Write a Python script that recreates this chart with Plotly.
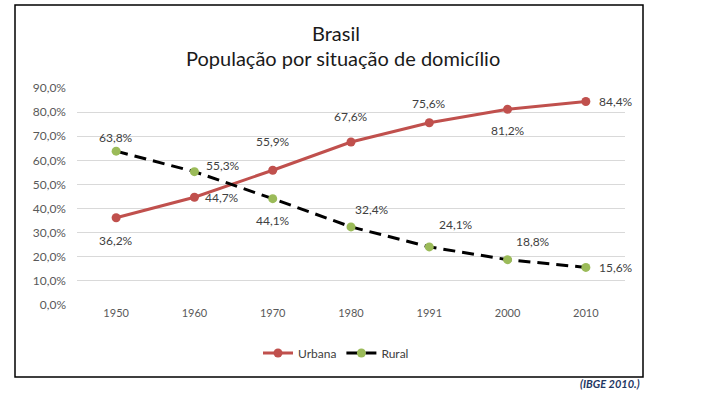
import plotly.graph_objects as go

anos = ["1950", "1960", "1970", "1980", "1991", "2000", "2010"]
urbana = [36.2, 44.7, 55.9, 67.6, 75.6, 81.2, 84.4]
rural = [63.8, 55.3, 44.1, 32.4, 24.1, 18.8, 15.6]
y_ticks = [0, 10, 20, 30, 40, 50, 60, 70, 80, 90]
y_ticktext = [f"{v:.1f}".replace(".", ",") + "%" for v in y_ticks]

# label offsets (pixels) per point
urb_off = [(0, -23), (28, 0), (0, 29), (0, 26), (0, 19), (0, -21), (30, 0)]
rur_off = [(0, 14), (29, 6), (0, -22), (21, 17), (27, 22), (25, 18), (30, 0)]

FONT = "Lato"
LBL = "#404040"

def fmt(v):
    return f"{v:.1f}".replace(".", ",") + "%"

xi = list(range(len(anos)))

fig = go.Figure()
fig.add_trace(go.Scatter(
    x=xi, y=urbana, name="Urbana", mode="lines+markers",
    line=dict(color="#C0504D", width=3),
    marker=dict(color="#C0504D", size=9),
))
fig.add_trace(go.Scatter(
    x=xi, y=rural, name="Rural", mode="lines+markers",
    line=dict(color="black", width=3, dash="12px,7px"),
    marker=dict(color="#9BBB59", size=9),
))

ann = []
for a, v, (dx, dy) in zip(xi, urbana, urb_off):
    ann.append(dict(x=a, y=v, xref="x", yref="y", text=fmt(v), showarrow=False,
                    xanchor="center", yanchor="middle",
                    xshift=dx, yshift=dy, font=dict(family=FONT, size=12, color=LBL)))
for a, v, (dx, dy) in zip(xi, rural, rur_off):
    ann.append(dict(x=a, y=v, xref="x", yref="y", text=fmt(v), showarrow=False,
                    xanchor="center", yanchor="middle",
                    xshift=dx, yshift=dy, font=dict(family=FONT, size=12, color=LBL)))

W, H = 708, 396
L, R, T, B = 77, 625, 88, 305
pw, ph = R - L, B - T

def px(xp):
    return (xp - L) / pw

def py(yp):
    return (B - yp) / ph

ann.append(dict(x=px(336), y=py(33), xref="paper", yref="paper", text="Brasil",
                xanchor="center", yanchor="middle",
                showarrow=False, font=dict(family=FONT, size=20, color="#1a1a1a")))
ann.append(dict(x=px(343), y=py(58), xref="paper", yref="paper",
                text="População por situação de domicílio",
                xanchor="center", yanchor="middle",
                showarrow=False, font=dict(family=FONT, size=20, color="#1a1a1a")))
ann.append(dict(x=px(642), y=py(383), xref="paper", yref="paper", text="<b><i>(IBGE 2010.)</i></b>",
                xanchor="right", yanchor="middle",
                showarrow=False, font=dict(family=FONT, size=11, color="#1F3864")))

fig.update_layout(
    width=W, height=H,
    margin=dict(l=L, r=W - R, t=T, b=H - B, autoexpand=False),
    paper_bgcolor="white", plot_bgcolor="white",
    showlegend=True,
    legend=dict(orientation="h", x=px(336), xanchor="center", y=py(353), yanchor="middle",
                font=dict(family=FONT, size=12, color="#404040")),
    annotations=ann,
    shapes=[dict(type="rect", xref="paper", yref="paper",
                 x0=px(15), x1=px(643), y0=py(5), y1=py(377),
                 line=dict(color="black", width=1.5))],
    xaxis=dict(range=[-0.5, 6.5], tickvals=xi, ticktext=anos,
               showgrid=False, showline=False, ticks="", zeroline=False,
               tickfont=dict(family=FONT, size=11, color="#595959")),
    yaxis=dict(range=[0, 90], tickvals=y_ticks, ticktext=y_ticktext,
               showgrid=True, gridcolor="#D9D9D9", gridwidth=1.3, zeroline=False,
               showline=False, ticks="", ticklabelstandoff=10,
               tickfont=dict(family=FONT, size=12, color="#595959")),
)

fig.write_html("out.html", config={"displayModeBar": False},
               post_script="document.body.style.margin='0';")
